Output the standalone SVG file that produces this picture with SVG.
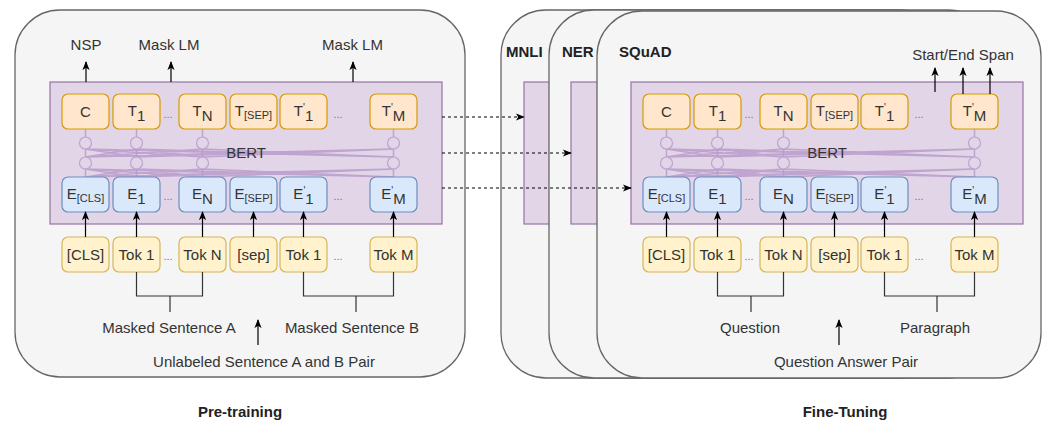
<svg xmlns="http://www.w3.org/2000/svg" xmlns:xlink="http://www.w3.org/1999/xlink" width="1052" height="423" viewBox="0 0 1052 423">
  <style>
    .panel { fill: #f5f5f5; stroke: #666666; stroke-width: 1.3; }
    .bert { fill: #e1d5e7; stroke: #9673a6; stroke-width: 1.2; }
    .out { fill: #ffe6cc; stroke: #d79b00; stroke-width: 1.2; }
    .emb { fill: #dae8fc; stroke: #6c8ebf; stroke-width: 1.2; }
    .tok { fill: #fff2cc; stroke: #d6b656; stroke-width: 1.2; }
    text { font-family: "Liberation Sans", Arial, sans-serif; font-size: 15px; fill: #333333; text-anchor: middle; }
    .sm { font-size: 11px; }
    .sup { font-size: 10px; }
    .title { font-weight: bold; fill: #222222; }
    .start { text-anchor: start; }
    .dots { font-size: 11px; fill: #777777; }
    .arr { stroke: #000000; stroke-width: 1.2; fill: none; marker-end: url(#ah); }
    .dash { stroke-dasharray: 3 3; }
    .brk { stroke: #333333; stroke-width: 1.2; fill: none; }
    .wire { stroke: #b597c8; stroke-opacity: 0.8; stroke-width: 1.5; fill: none; }
    .unit { fill: #e1d5e7; stroke: #c0a3d1; stroke-width: 1.2; }
  </style>
  <defs>
    <marker id="ah" viewBox="0 0 10 10" refX="9" refY="5" markerWidth="9" markerHeight="9" orient="auto" markerUnits="userSpaceOnUse">
      <path d="M0,1 L10,5 L0,9 L2.5,5 z" fill="#000000"/>
    </marker>
    <!-- transformer layers: two rows of units, fully connected -->
    <g id="net">
      <path class="wire" d="M85.5 129V177M136.5 129V177M202.5 129V177M393.5 129V177"/>
      <path class="wire" d="M85.5 149L136.5 157M85.5 149L202.5 157M85.5 149L393.5 157M136.5 149L85.5 157M136.5 149L202.5 157M136.5 149L393.5 157M202.5 149L85.5 157M202.5 149L136.5 157M202.5 149L393.5 157M393.5 149L85.5 157M393.5 149L136.5 157M393.5 149L202.5 157"/>
      <path class="wire" d="M85.5 169L136.5 177M85.5 169L202.5 177M85.5 169L393.5 177M136.5 169L85.5 177M136.5 169L202.5 177M136.5 169L393.5 177M202.5 169L85.5 177M202.5 169L136.5 177M202.5 169L393.5 177M393.5 169L85.5 177M393.5 169L136.5 177M393.5 169L202.5 177"/>
      <circle class="unit" cx="85.5" cy="143" r="6"/>
      <circle class="unit" cx="136.5" cy="143" r="6"/>
      <circle class="unit" cx="202.5" cy="143" r="6"/>
      <circle class="unit" cx="393.5" cy="143" r="6"/>
      <circle class="unit" cx="85.5" cy="163" r="6"/>
      <circle class="unit" cx="136.5" cy="163" r="6"/>
      <circle class="unit" cx="202.5" cy="163" r="6"/>
      <circle class="unit" cx="393.5" cy="163" r="6"/>
    </g>
  </defs>

  <!-- ===== Pre-training panel ===== -->
  <g id="pretrain-panel">
    <rect class="panel" x="15" y="10" width="450" height="367" rx="45"/>
  </g>
  <g id="pretrain-bert">
    <rect class="bert" x="50" y="82" width="392" height="142"/>
    <use xlink:href="#net"/>
    <text x="246" y="158">BERT</text>
  </g>

  <g id="pt-C"><rect class="out" x="62" y="94" width="47" height="35" rx="6"/><text x="85.5" y="117">C</text></g>
  <g id="pt-T1"><rect class="out" x="113" y="94" width="47" height="35" rx="6"/><text x="136.5" y="116">T<tspan dy="5">1</tspan></text></g>
  <g id="pt-TN"><rect class="out" x="179" y="94" width="47" height="35" rx="6"/><text x="202.5" y="116">T<tspan dy="5">N</tspan></text></g>
  <g id="pt-TSEP"><rect class="out" x="230" y="94" width="47" height="35" rx="6"/><text x="253.5" y="116">T<tspan class="sm" dy="3">[SEP]</tspan></text></g>
  <g id="pt-T1p"><rect class="out" x="280" y="94" width="47" height="35" rx="6"/><text x="303.5" y="116">T<tspan class="sup" dy="-5">'</tspan><tspan dy="10">1</tspan></text></g>
  <g id="pt-TMp"><rect class="out" x="370" y="94" width="47" height="35" rx="6"/><text x="393.5" y="116">T<tspan class="sup" dy="-5">'</tspan><tspan dy="10">M</tspan></text></g>

  <g id="pt-ECLS"><rect class="emb" x="62" y="177" width="47" height="35" rx="6"/><text x="85.5" y="199">E<tspan class="sm" dy="3">[CLS]</tspan></text></g>
  <g id="pt-E1"><rect class="emb" x="113" y="177" width="47" height="35" rx="6"/><text x="136.5" y="199">E<tspan dy="5">1</tspan></text></g>
  <g id="pt-EN"><rect class="emb" x="179" y="177" width="47" height="35" rx="6"/><text x="202.5" y="199">E<tspan dy="5">N</tspan></text></g>
  <g id="pt-ESEP"><rect class="emb" x="230" y="177" width="47" height="35" rx="6"/><text x="253.5" y="199">E<tspan class="sm" dy="3">[SEP]</tspan></text></g>
  <g id="pt-E1p"><rect class="emb" x="280" y="177" width="47" height="35" rx="6"/><text x="303.5" y="199">E<tspan class="sup" dy="-5">'</tspan><tspan dy="10">1</tspan></text></g>
  <g id="pt-EMp"><rect class="emb" x="370" y="177" width="47" height="35" rx="6"/><text x="393.5" y="199">E<tspan class="sup" dy="-5">'</tspan><tspan dy="10">M</tspan></text></g>

  <g id="pt-tokCLS"><rect class="tok" x="62" y="237" width="47" height="35" rx="6"/><text x="85.5" y="260">[CLS]</text></g>
  <g id="pt-tok1"><rect class="tok" x="113" y="237" width="47" height="35" rx="6"/><text x="136.5" y="260">Tok 1</text></g>
  <g id="pt-tokN"><rect class="tok" x="179" y="237" width="47" height="35" rx="6"/><text x="202.5" y="260">Tok N</text></g>
  <g id="pt-tokSEP"><rect class="tok" x="230" y="237" width="47" height="35" rx="6"/><text x="253.5" y="260">[sep]</text></g>
  <g id="pt-tok1p"><rect class="tok" x="280" y="237" width="47" height="35" rx="6"/><text x="303.5" y="260">Tok 1</text></g>
  <g id="pt-tokM"><rect class="tok" x="370" y="237" width="47" height="35" rx="6"/><text x="393.5" y="260">Tok M</text></g>

  <g id="pt-ellipses">
    <text class="dots" x="168" y="118">...</text>
    <text class="dots" x="338" y="118">...</text>
    <text class="dots" x="168" y="200">...</text>
    <text class="dots" x="338" y="200">...</text>
    <text class="dots" x="168" y="260">...</text>
    <text class="dots" x="338" y="260">...</text>
  </g>

  <g id="pt-labels">
    <text x="86" y="50">NSP</text>
    <text x="169" y="50">Mask LM</text>
    <text x="352.5" y="50">Mask LM</text>
    <text x="169" y="333">Masked Sentence A</text>
    <text x="352" y="333">Masked Sentence B</text>
    <text x="264" y="367">Unlabeled Sentence A and B Pair</text>
    <text class="title" x="240" y="417">Pre-training</text>
  </g>

  <!-- ===== Fine-tuning panels (stacked tasks) ===== -->
  <g id="mnli-panel">
    <rect class="panel" x="501" y="10" width="444" height="368" rx="45"/>
    <rect class="bert" x="524" y="82" width="392" height="142"/>
    <text class="title start" x="506" y="57">MNLI</text>
  </g>
  <g id="ner-panel">
    <rect class="panel" x="549" y="10" width="444" height="368" rx="45"/>
    <rect class="bert" x="571" y="82" width="392" height="142"/>
    <text class="title start" x="562" y="57">NER</text>
  </g>
  <g id="squad-panel">
    <rect class="panel" x="597" y="11" width="444" height="367" rx="45"/>
    <text class="title start" x="619" y="57">SQuAD</text>
  </g>
  <g id="squad-bert">
    <rect class="bert" x="631" y="82" width="392" height="142"/>
    <use xlink:href="#net" transform="translate(581,0)"/>
    <text x="827" y="158">BERT</text>
  </g>

  <g id="ft-C"><rect class="out" x="643" y="94" width="47" height="35" rx="6"/><text x="666.5" y="117">C</text></g>
  <g id="ft-T1"><rect class="out" x="694" y="94" width="47" height="35" rx="6"/><text x="717.5" y="116">T<tspan dy="5">1</tspan></text></g>
  <g id="ft-TN"><rect class="out" x="760" y="94" width="47" height="35" rx="6"/><text x="783.5" y="116">T<tspan dy="5">N</tspan></text></g>
  <g id="ft-TSEP"><rect class="out" x="811" y="94" width="47" height="35" rx="6"/><text x="834.5" y="116">T<tspan class="sm" dy="3">[SEP]</tspan></text></g>
  <g id="ft-T1p"><rect class="out" x="861" y="94" width="47" height="35" rx="6"/><text x="884.5" y="116">T<tspan class="sup" dy="-5">'</tspan><tspan dy="10">1</tspan></text></g>
  <g id="ft-TMp"><rect class="out" x="951" y="94" width="47" height="35" rx="6"/><text x="974.5" y="116">T<tspan class="sup" dy="-5">'</tspan><tspan dy="10">M</tspan></text></g>

  <g id="ft-ECLS"><rect class="emb" x="643" y="177" width="47" height="35" rx="6"/><text x="666.5" y="199">E<tspan class="sm" dy="3">[CLS]</tspan></text></g>
  <g id="ft-E1"><rect class="emb" x="694" y="177" width="47" height="35" rx="6"/><text x="717.5" y="199">E<tspan dy="5">1</tspan></text></g>
  <g id="ft-EN"><rect class="emb" x="760" y="177" width="47" height="35" rx="6"/><text x="783.5" y="199">E<tspan dy="5">N</tspan></text></g>
  <g id="ft-ESEP"><rect class="emb" x="811" y="177" width="47" height="35" rx="6"/><text x="834.5" y="199">E<tspan class="sm" dy="3">[SEP]</tspan></text></g>
  <g id="ft-E1p"><rect class="emb" x="861" y="177" width="47" height="35" rx="6"/><text x="884.5" y="199">E<tspan class="sup" dy="-5">'</tspan><tspan dy="10">1</tspan></text></g>
  <g id="ft-EMp"><rect class="emb" x="951" y="177" width="47" height="35" rx="6"/><text x="974.5" y="199">E<tspan class="sup" dy="-5">'</tspan><tspan dy="10">M</tspan></text></g>

  <g id="ft-tokCLS"><rect class="tok" x="643" y="237" width="47" height="35" rx="6"/><text x="666.5" y="260">[CLS]</text></g>
  <g id="ft-tok1"><rect class="tok" x="694" y="237" width="47" height="35" rx="6"/><text x="717.5" y="260">Tok 1</text></g>
  <g id="ft-tokN"><rect class="tok" x="760" y="237" width="47" height="35" rx="6"/><text x="783.5" y="260">Tok N</text></g>
  <g id="ft-tokSEP"><rect class="tok" x="811" y="237" width="47" height="35" rx="6"/><text x="834.5" y="260">[sep]</text></g>
  <g id="ft-tok1p"><rect class="tok" x="861" y="237" width="47" height="35" rx="6"/><text x="884.5" y="260">Tok 1</text></g>
  <g id="ft-tokM"><rect class="tok" x="951" y="237" width="47" height="35" rx="6"/><text x="974.5" y="260">Tok M</text></g>

  <g id="ft-ellipses">
    <text class="dots" x="749" y="118">...</text>
    <text class="dots" x="919" y="118">...</text>
    <text class="dots" x="749" y="200">...</text>
    <text class="dots" x="919" y="200">...</text>
    <text class="dots" x="749" y="260">...</text>
    <text class="dots" x="919" y="260">...</text>
  </g>

  <g id="ft-labels">
    <text x="963" y="60">Start/End Span</text>
    <text x="750" y="333">Question</text>
    <text x="935" y="333">Paragraph</text>
    <text x="846" y="367">Question Answer Pair</text>
    <text class="title" x="845" y="417">Fine-Tuning</text>
  </g>

  <!-- ===== connectors ===== -->
  <g id="connectors">
    <!-- pre-training outputs -->
    <line class="arr" x1="86" y1="82" x2="86" y2="62"/>
    <line class="arr" x1="171" y1="82" x2="171" y2="62"/>
    <line class="arr" x1="353" y1="82" x2="353" y2="62"/>
    <!-- token to embedding -->
    <line class="arr" x1="85.5" y1="237" x2="85.5" y2="212"/>
    <line class="arr" x1="136.5" y1="237" x2="136.5" y2="212"/>
    <line class="arr" x1="202.5" y1="237" x2="202.5" y2="212"/>
    <line class="arr" x1="253.5" y1="237" x2="253.5" y2="212"/>
    <line class="arr" x1="303.5" y1="237" x2="303.5" y2="212"/>
    <line class="arr" x1="393.5" y1="237" x2="393.5" y2="212"/>
    <path class="brk" d="M136.5 272V296H202.5V272M170 296V312"/>
    <path class="brk" d="M303.5 272V296H393.5V272M356 296V312"/>
    <line class="arr" x1="258" y1="345" x2="258" y2="320"/>

    <!-- transfer of pre-trained parameters -->
    <line class="arr dash" x1="442" y1="117" x2="524" y2="117"/>
    <line class="arr dash" x1="442" y1="153" x2="571" y2="153"/>
    <line class="arr dash" x1="442" y1="188" x2="631" y2="188"/>

    <!-- fine-tuning outputs -->
    <line class="arr" x1="935" y1="92" x2="935" y2="68"/>
    <line class="arr" x1="963" y1="94" x2="963" y2="68"/>
    <line class="arr" x1="990" y1="94" x2="990" y2="68"/>
    <line class="arr" x1="666.5" y1="237" x2="666.5" y2="212"/>
    <line class="arr" x1="717.5" y1="237" x2="717.5" y2="212"/>
    <line class="arr" x1="783.5" y1="237" x2="783.5" y2="212"/>
    <line class="arr" x1="834.5" y1="237" x2="834.5" y2="212"/>
    <line class="arr" x1="884.5" y1="237" x2="884.5" y2="212"/>
    <line class="arr" x1="974.5" y1="237" x2="974.5" y2="212"/>
    <path class="brk" d="M717.5 272V296H783.5V272M751 296V312"/>
    <path class="brk" d="M884.5 272V296H974.5V272M937 296V312"/>
    <line class="arr" x1="839" y1="345" x2="839" y2="320"/>
  </g>
</svg>
